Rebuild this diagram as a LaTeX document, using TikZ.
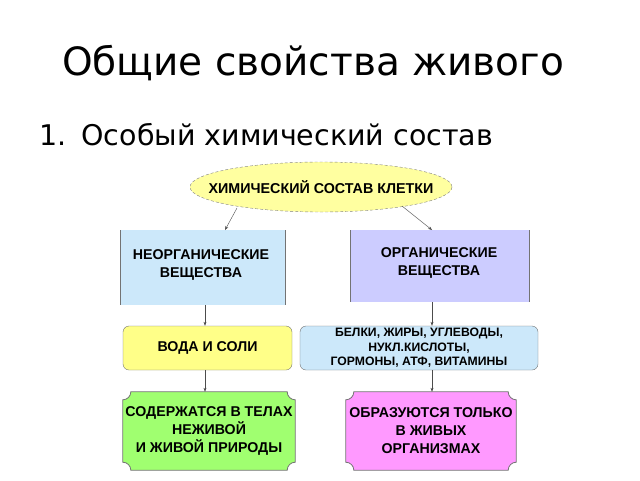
\documentclass[tikz,border=0pt]{standalone}
\usepackage{fontspec}
\setmainfont{DejaVu Sans}
\newfontfamily\boxfont{Liberation Sans}
\usetikzlibrary{shapes.geometric,arrows.meta}
\definecolor{skyfill}{HTML}{CCE8FA}
\definecolor{lilacfill}{HTML}{CCCCFF}
\definecolor{lemonfill}{HTML}{FFFF88}
\definecolor{greenfill}{HTML}{A0FF70}
\definecolor{pinkfill}{HTML}{FF99FF}
\tikzset{
  box/.style={align=center,font=\boxfont\bfseries\fontsize{14.2}{18}\selectfont,inner sep=0pt},
  conn/.style={draw=black!70,-{Stealth[length=4pt,width=3pt]}},
  edge/.style={draw=black!55,line width=0.8pt}
}
% box with concave corners
\newcommand\bevelbox[3]{%
  \fill[#3] ([xshift=#2]#1.north west) -- ([xshift=-#2]#1.north east)
    arc[start angle=180,end angle=270,radius=#2] -- ([yshift=#2]#1.south east)
    arc[start angle=90,end angle=180,radius=#2] -- ([xshift=#2]#1.south west)
    arc[start angle=0,end angle=90,radius=#2] -- ([yshift=-#2]#1.north west)
    arc[start angle=-90,end angle=0,radius=#2] -- cycle;
  \draw[edge] ([xshift=#2]#1.north west) -- ([xshift=-#2]#1.north east)
    arc[start angle=180,end angle=270,radius=#2] -- ([yshift=#2]#1.south east)
    arc[start angle=90,end angle=180,radius=#2] -- ([xshift=#2]#1.south west)
    arc[start angle=0,end angle=90,radius=#2] -- ([yshift=-#2]#1.north west)
    arc[start angle=-90,end angle=0,radius=#2] -- cycle;}
\begin{document}
\begin{tikzpicture}[x=1pt,y=-1pt]
\useasboundingbox (0,0) rectangle (640,480);
% headings
\node[font=\fontsize{39}{44}\selectfont] (title) at (313,63) {Общие свойства живого};
\node[font=\fontsize{28.5}{32}\selectfont,anchor=west] (num) at (36,135) {1.};
\node[font=\fontsize{28.5}{32}\selectfont,anchor=west] (item) at (78,135) {Особый химический состав};
% top ellipse
\fill[lemonfill!80] (321,187) ellipse[x radius=131,y radius=25];
\draw[black!50,densely dashed] (321,187) ellipse[x radius=131,y radius=25];
\node[box,font=\boxfont\bfseries\fontsize{14.3}{16}\selectfont] (cell) at (321,187) {ХИМИЧЕСКИЙ СОСТАВ КЛЕТКИ};
\coordinate (cl) at (237,208);
\coordinate (cr) at (402,206);
% second row
\fill[skyfill] (120,230) rectangle (285,305);
\draw[edge] (120,230) -- (120,305) (285,230) -- (285,305);
\node[box] (inorg) at (201,265) {НЕОРГАНИЧЕСКИЕ\\ВЕЩЕСТВА};
\fill[lilacfill] (350,230) rectangle (529,302);
\draw[edge] (350,230) -- (350,302) (529,230) -- (529,302);
\node[box] (org) at (439,263) {ОРГАНИЧЕСКИЕ\\ВЕЩЕСТВА};
\coordinate (inorgT) at (225,230);
\coordinate (orgT) at (432,230);
\coordinate (inorgB) at (205,305);
\coordinate (orgB) at (432,302);
\draw[conn] (cl) -- (inorgT);
\draw[conn] (cr) -- (orgT);
% third row
\node[box,fill=lemonfill,draw=black!55,rounded corners=6pt,minimum width=169pt,minimum height=44pt] (water) at (207.5,348) {ВОДА И СОЛИ};
\node[box,fill=skyfill,draw=black!55,rounded corners=6pt,minimum width=238pt,minimum height=44pt,font=\boxfont\bfseries\fontsize{12.2}{14.5}\selectfont] (list) at (419,348) {БЕЛКИ, ЖИРЫ, УГЛЕВОДЫ,\\НУКЛ.КИСЛОТЫ,\\ГОРМОНЫ, АТФ, ВИТАМИНЫ};
\draw[conn] (inorgB) -- (inorgB |- water.north);
\draw[conn] (orgB) -- (orgB |- list.north);
% bottom row
\node[box,minimum width=172pt,minimum height=78pt] (nature) at (209,431) {};
\node[box,minimum width=170pt,minimum height=78pt] (living) at (431,431) {};
\bevelbox{nature}{8pt}{greenfill}
\bevelbox{living}{8pt}{pinkfill}
\node[box] at (nature) {СОДЕРЖАТСЯ В ТЕЛАХ\\НЕЖИВОЙ\\И ЖИВОЙ ПРИРОДЫ};
\node[box] at (living) {ОБРАЗУЮТСЯ ТОЛЬКО\\В ЖИВЫХ\\ОРГАНИЗМАХ};
\draw[conn] (water.south -| inorgB) -- (inorgB |- nature.north);
\draw[conn] (list.south -| orgB) -- (orgB |- living.north);
\end{tikzpicture}
\end{document}
